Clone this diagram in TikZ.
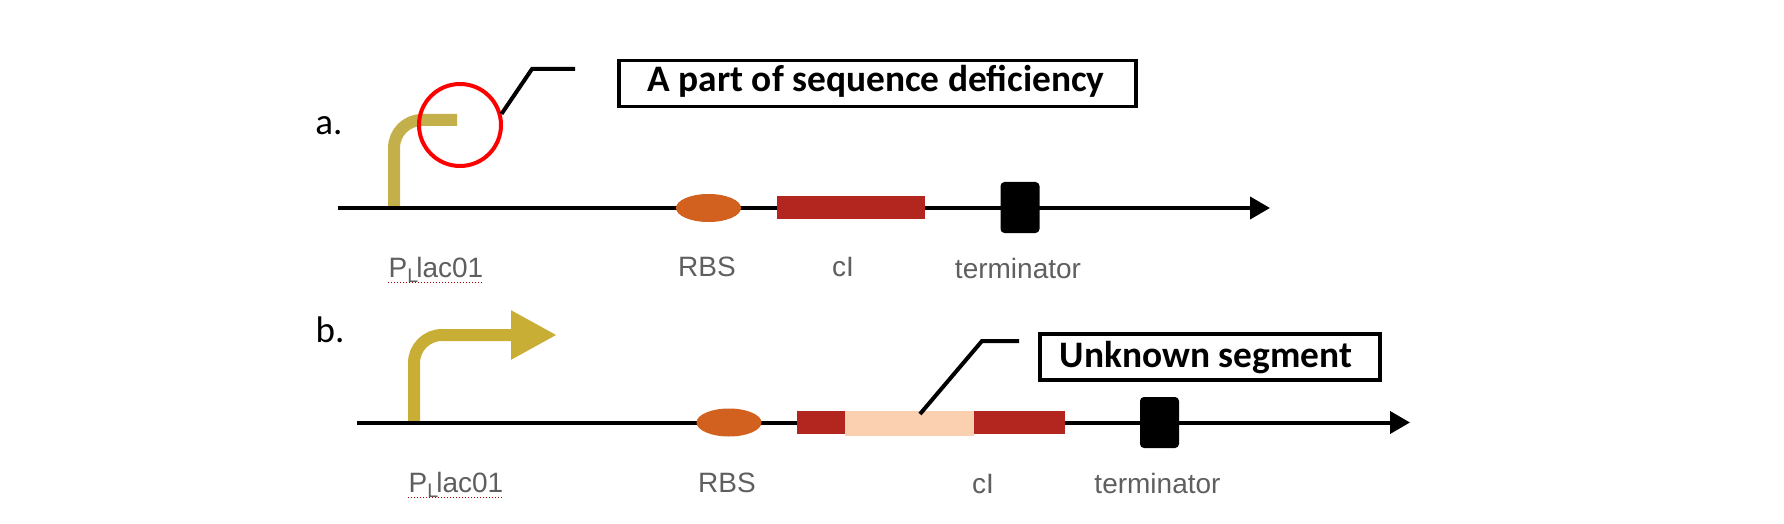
\documentclass[tikz,border=0pt]{standalone}
\usepackage{fontspec}
\setmainfont{Carlito}
\setsansfont{Liberation Sans}
\usetikzlibrary{arrows.meta,shapes.geometric}
\definecolor{promgold}{HTML}{C9AE36}
\definecolor{promdull}{HTML}{C4B04A}
\definecolor{rbsorange}{HTML}{D2601F}
\definecolor{genered}{HTML}{B2261F}
\definecolor{segpeach}{HTML}{FBD0B0}
\definecolor{lblgrey}{HTML}{5F5F5F}
\tikzset{
  backbone/.style={-{Triangle[length=10pt,width=11pt]},line width=2pt,black},
  leader/.style={line width=2pt,black},
  promoter/.style={line width=6pt,rounded corners=14pt},
  rbs/.style={ellipse,fill=rbsorange,inner sep=0pt,minimum width=32.5pt,minimum height=14pt},
  gene/.style={fill=genered,inner sep=0pt,minimum height=11.5pt},
  segment/.style={fill=segpeach,inner sep=0pt,minimum height=12.5pt},
  term/.style={fill=black,rounded corners=2pt,inner sep=0pt,minimum width=19.5pt,minimum height=25.5pt},
  callout/.style={draw=black,line width=1.75pt,inner sep=0pt,
                  font=\fontsize{18.7}{22}\selectfont\bfseries},
  calloutlbl/.style={font=\fontsize{18.7}{22}\selectfont\bfseries,inner sep=0pt},
  genelbl/.style={font=\sffamily\fontsize{14}{16}\selectfont,text=lblgrey,inner sep=0pt},
  panel/.style={font=\fontsize{18.5}{22}\selectfont,inner sep=0pt},
  squiggle/.style={red!70!black,line width=0.5pt,densely dotted},
}
\begin{document}
\begin{tikzpicture}[x=0.5pt,y=-0.5pt]
  \useasboundingbox (0,0) rectangle (1784,524);

  % ---- panel a ----
  \node[panel] (panela) at (329,126) {a.};
  \coordinate (lineastart) at (338,208);
  \coordinate (lineaend) at (1270,208);
  \coordinate (proma) at (394,208);
  \coordinate (promaend) at (457,120);
  \draw[promoter,promdull] (proma) |- (promaend);
  \draw[backbone] (lineastart) -- (lineaend);
  \node[rbs] (rbsa) at (708.5,208) {};
  \node[gene,minimum width=74pt] (genea) at (851,207.5) {};
  \node[term] (terma) at (1020,207.5) {};
  \node[genelbl] (lblpa) at (436,270) {P\textsubscript{L}\kern-1.5pt lac01};
  \node[genelbl] (lblrbsa) at (707,267) {RBS};
  \node[genelbl] (lblgenea) at (843,267) {cI};
  \node[genelbl] (lblterma) at (1018,268) {terminator};
  \draw[squiggle] (lblpa.south west) -- (lblpa.south east);

  % ---- missing part of the promoter ----
  \node[circle,draw=red,line width=2pt,inner sep=0pt,minimum size=41pt] (defect) at (460,125) {};
  \node[callout,minimum width=258.5pt,minimum height=23pt] (boxa) at (877.5,83.5) {};
  \node[calloutlbl] (texta) at (876,81.5) {A part of sequence deficiency};
  \coordinate (benda) at (532,69);
  \coordinate (freea) at (575,69);
  \draw[leader] (defect.15) -- (benda) -- (freea);

  % ---- panel b ----
  \node[panel] (panelb) at (330,330) {b.};
  \coordinate (linebstart) at (357,422.5);
  \coordinate (linebend) at (1410,422.5);
  \coordinate (promb) at (414,422.5);
  \coordinate (prombend) at (557,335);
  \draw[promoter,promgold,-{Triangle[length=23pt,width=23pt]}] (promb) |- (prombend);
  \draw[backbone] (linebstart) -- (linebend);
  \node[rbs] (rbsb) at (729,422.5) {};
  \node[gene,minimum width=134pt] (geneb) at (931,422.5) {};
  \node[segment,minimum width=64.5pt] (seg) at (909.5,423) {};
  \node[term] (termb) at (1159.5,422.5) {};
  \node[genelbl] (lblpb) at (456,485) {P\textsubscript{L}\kern-1.5pt lac01};
  \node[genelbl] (lblrbsb) at (727,483) {RBS};
  \node[genelbl] (lblgeneb) at (983,484) {cI};
  \node[genelbl] (lbltermb) at (1157.5,483) {terminator};
  \draw[squiggle] (lblpb.south west) -- (lblpb.south east);

  % ---- unknown insert ----
  \node[callout,minimum width=170pt,minimum height=23pt] (boxb) at (1210,357) {};
  \node[calloutlbl] (textb) at (1206,358) {Unknown segment};
  \coordinate (segtop) at (920,414);
  \coordinate (bendb) at (982,341);
  \coordinate (freeb) at (1019,341);
  \draw[leader] (segtop) -- (bendb) -- (freeb);
\end{tikzpicture}
\end{document}
